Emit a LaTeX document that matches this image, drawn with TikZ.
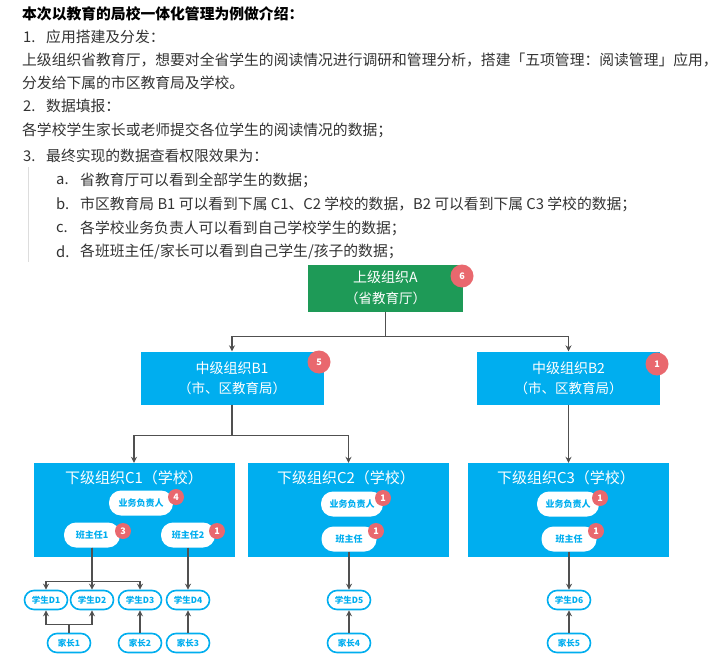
\documentclass[tikz,border=0pt]{standalone}
\usepackage{fontspec}
\setmainfont{Noto Sans CJK SC}
\usetikzlibrary{arrows.meta}
\definecolor{eduGreen}{HTML}{1E9A57}
\definecolor{eduCyan}{HTML}{00AEEF}
\definecolor{eduRed}{HTML}{E9686E}
\definecolor{eduGrey}{HTML}{505050}
\definecolor{eduText}{HTML}{333333}
\definecolor{eduRule}{HTML}{DDDDDD}
\tikzset{
  >={Stealth[length=6pt,width=6pt]},
  para/.style={anchor=west, inner sep=0pt, font=\fontsize{14.8}{16}\selectfont, text=eduText},
  topbox/.style={fill=eduGreen, text=white, align=center, inner sep=0pt,
              minimum width=155pt, minimum height=47pt, font=\fontsize{14}{21}\selectfont},
  midbox/.style={fill=eduCyan, text=white, align=center, inner sep=0pt,
              minimum width=183pt, minimum height=53pt, font=\fontsize{14}{20}\selectfont},
  schbox/.style={fill=eduCyan, inner sep=0pt, minimum width=201pt, minimum height=94pt},
  schtitle/.style={text=white, inner sep=0pt, font=\fontsize{15}{16}\selectfont},
  role/.style={fill=white, rounded corners=12pt, text=eduCyan, inner sep=0pt,
              minimum height=25pt, font=\bfseries\fontsize{9}{10}\selectfont},
  pupil/.style={draw=eduCyan, line width=1.6pt, fill=white, rounded corners=9.5pt, text=eduCyan,
              inner sep=0pt, minimum width=43pt, minimum height=19pt,
              font=\bfseries\fontsize{8.5}{9}\selectfont},
  badge/.style={circle, fill=eduRed, text=white, inner sep=0pt, minimum size=23pt,
              font=\bfseries\fontsize{9}{10}\selectfont},
  sbadge/.style={badge, minimum size=16pt},
  link/.style={->, draw=eduGrey, line width=1.1pt},
}

\begin{document}
\begin{tikzpicture}[x=1pt,y=-1pt]
  \useasboundingbox[fill=white] (0,0) rectangle (726,669);
  % text above the chart
  \node[para,text=black,font=\bfseries\fontsize{14.8}{16}\selectfont] (head) at (22,14)
    {本次以教育的局校一体化管理为例做介绍：};
  \node[para] (n1) at (23,37) {1.};
  \node[para] (s1) at (46,37) {应用搭建及分发：};
  \node[para] (p1) at (22,60) {上级组织省教育厅，想要对全省学生的阅读情况进行调研和管理分析，搭建「五项管理：阅读管理」应用，};
  \node[para] (p2) at (22,83) {分发给下属的市区教育局及学校。};
  \node[para] (n2) at (23,106) {2.};
  \node[para] (s2) at (46,106) {数据填报：};
  \node[para] (p3) at (22,130) {各学校学生家长或老师提交各位学生的阅读情况的数据；};
  \node[para] (n3) at (23,156) {3.};
  \node[para] (s3) at (46,156) {最终实现的数据查看权限效果为：};
  \draw[eduRule,line width=1pt] (28,167) -- (28,262);
  \foreach \k/\y/\txt in {a/180/{省教育厅可以看到全部学生的数据；},
      b/204/{市区教育局 B1 可以看到下属 C1、C2 学校的数据，B2 可以看到下属 C3 学校的数据；},
      c/228/{各学校业务负责人可以看到自己学校学生的数据；},
      d/252/{各班班主任/家长可以看到自己学生/孩子的数据；}}{
    \node[para] (i\k) at (56,\y) {\k.};
    \node[para] (l\k) at (80,\y) {\txt};
  }

  % organisation boxes
  \node[topbox] (A) at (385.5,288) {上级组织A\\{\fontsize{13.5}{15}\selectfont（省教育厅）}};
  \node[midbox] (B1) at (232,378) {中级组织B1\\{\fontsize{13.5}{15}\selectfont（市、区教育局）}};
  \node[midbox] (B2) at (568.5,378) {中级组织B2\\{\fontsize{13.5}{15}\selectfont（市、区教育局）}};
  \node[schbox] (C1) at (134,510) {};
  \node[schbox] (C2) at (348.5,510) {};
  \node[schbox] (C3) at (568.5,510) {};
  \node[schtitle] (C1t) at (134,478) {下级组织C1（学校）};
  \node[schtitle] (C2t) at (346,478) {下级组织C2（学校）};
  \node[schtitle] (C3t) at (566,478) {下级组织C3（学校）};

  % roles inside the schools
  \node[role,minimum width=64pt] (M1) at (141,503) {业务负责人};
  \node[role,minimum width=56pt] (T11) at (92,535) {班主任1};
  \node[role,minimum width=54pt] (T12) at (188,535) {班主任2};
  \node[role,minimum width=62pt] (M2) at (352,504) {业务负责人};
  \node[role,minimum width=55pt] (T2) at (349,539) {班主任};
  \node[role,minimum width=62pt] (M3) at (568,504) {业务负责人};
  \node[role,minimum width=55pt] (T3) at (569,539) {班主任};

  % students and parents
  \node[pupil] (D1) at (46,600) {学生D1};
  \node[pupil] (D2) at (92,600) {学生D2};
  \node[pupil] (D3) at (140,600) {学生D3};
  \node[pupil] (D4) at (188,600) {学生D4};
  \node[pupil] (D5) at (349,600) {学生D5};
  \node[pupil] (D6) at (569,600) {学生D6};
  \node[pupil] (P1) at (69,643) {家长1};
  \node[pupil] (P2) at (140,643) {家长2};
  \node[pupil] (P3) at (188,643) {家长3};
  \node[pupil] (P4) at (349,643) {家长4};
  \node[pupil] (P5) at (569,643) {家长5};

  % connectors
  \foreach \b in {B1,B2}{\draw[link] (A.south) -- +(0,25) -| (\b.north);}
  \foreach \c in {C1,C2}{\draw[link] (B1.south) -- +(0,31) -| (\c.north);}
  \draw[link] (B2.south) -- (C3.north);
  \foreach \d in {D1,D2,D3}{\draw[link] (T11.south) -- +(0,34) -| (\d.north);}
  \draw[link] (T12.south) -- (D4.north);
  \draw[link] (T2.south) -- (D5.north);
  \draw[link] (T3.south) -- (D6.north);
  \foreach \d in {D1,D2}{\draw[link] (P1.north) -- +(0,-8) -| (\d.south);}
  \draw[link] (P2.north) -- (D3.south);
  \draw[link] (P3.north) -- (D4.south);
  \draw[link] (P4.north) -- (D5.south);
  \draw[link] (P5.north) -- (D6.south);

  % counters
  \node[badge] (kA) at (462,276) {6};
  \node[badge] (kB1) at (319,362) {5};
  \node[badge] (kB2) at (657,364) {1};
  \node[sbadge] (kM1) at (176,497) {4};
  \node[sbadge] (kT11) at (123,531) {3};
  \node[sbadge] (kT12) at (217,531) {1};
  \node[sbadge] (kM2) at (383,498) {1};
  \node[sbadge] (kT2) at (376,531) {1};
  \node[sbadge] (kM3) at (600,498) {1};
  \node[sbadge] (kT3) at (596,531) {1};
\end{tikzpicture}
\end{document}
